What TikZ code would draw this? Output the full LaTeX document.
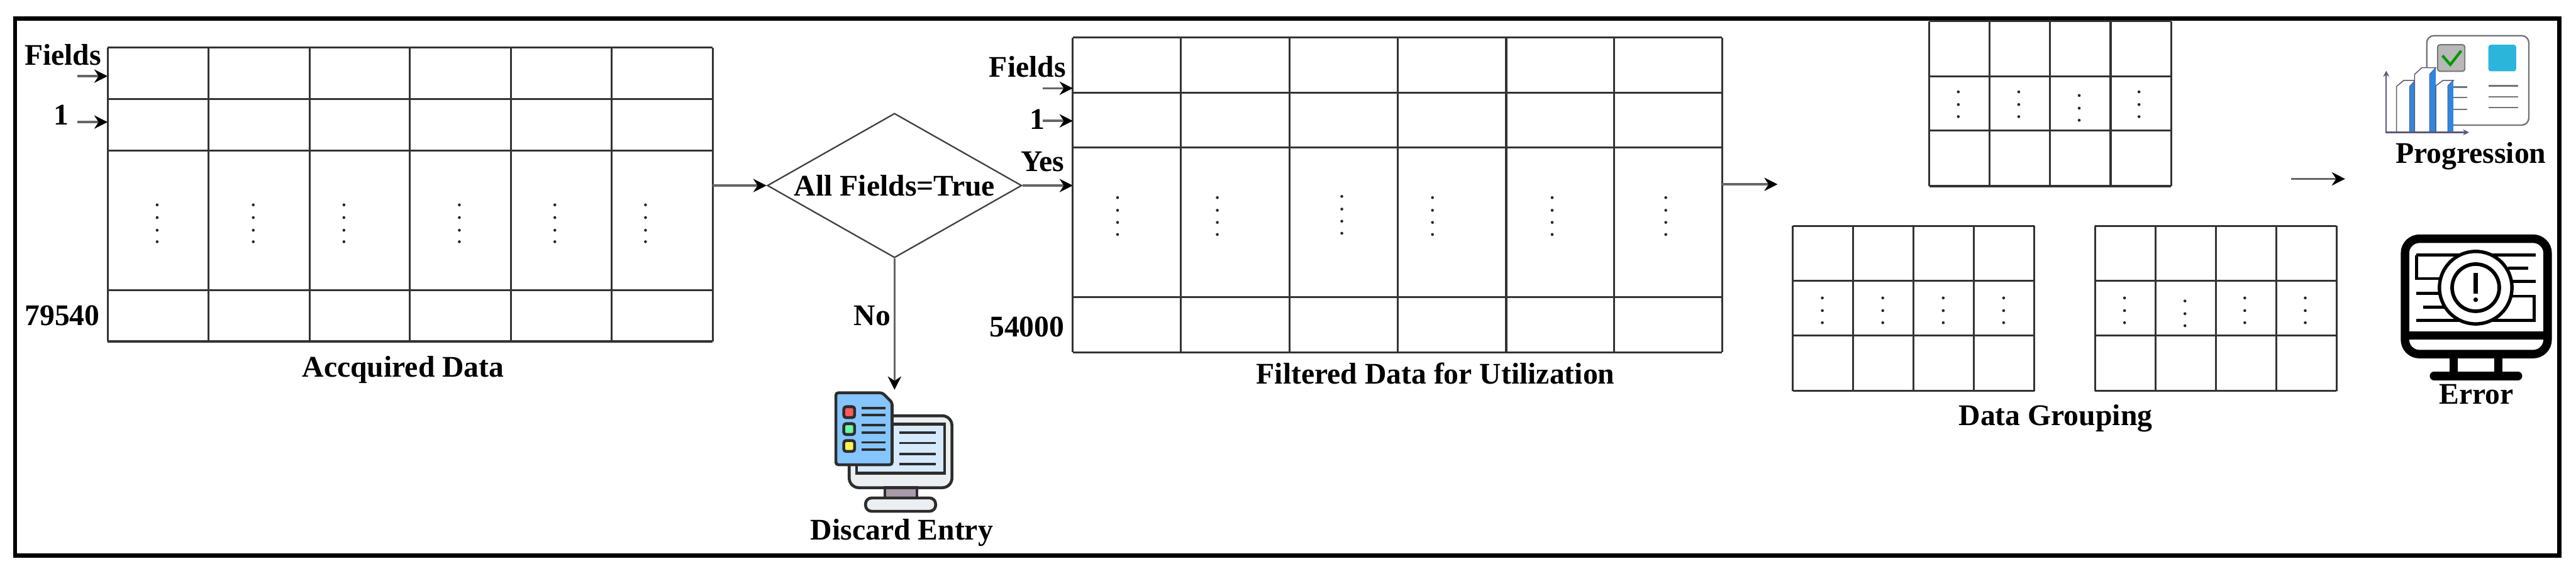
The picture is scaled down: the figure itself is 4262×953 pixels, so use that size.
\documentclass[tikz,border=0pt]{standalone}
\usepackage{fontspec}
\setmainfont{Liberation Serif}
\usetikzlibrary{arrows.meta}
\usetikzlibrary{shapes.geometric}
\definecolor{iconline}{HTML}{2D2D2D}
\definecolor{chartline}{HTML}{5C5878}
\definecolor{chartblue}{HTML}{2F86E0}
\definecolor{docblue}{HTML}{85C5FF}
\definecolor{screenblue}{HTML}{D6EAFE}
\definecolor{screengray}{HTML}{ECEFF2}
\definecolor{standgray}{HTML}{A79BA8}
\definecolor{cardblue}{HTML}{2CB5DA}
\tikzset{
 lab/.style={font=\bfseries\fontsize{12.4}{14}\selectfont, inner sep=0},
 tblline/.style={black!80, line width=.8pt},
 flow/.style={black!60, line width=.9pt, -{Stealth[length=5.5pt,width=5.5pt,black]}},
 dotmark/.style={fill=black!85},
 errline/.style={black, line width=1.25pt},
 docline/.style={iconline, line width=1pt},
 cardline/.style={black!55, line width=.6pt},
}
\begin{document}
\begin{tikzpicture}[x=.25pt,y=-.25pt]
\useasboundingbox (0,0) rectangle (4262,953);
\draw[black, line width=1.75pt] (25,31) rectangle (4234,919);
% acquired table
\foreach \x in {178,345,512,678,845,1012,1179} {
 \draw[tblline] (\x,79) -- (\x,565);
}
\foreach \y in {79,164,249,480,565} {
 \draw[tblline] (178,\y) -- (1179,\y);
}
\foreach \x in {260,419,569,760,918,1068} {
 \foreach \d in {0,21,42,61} {
  \fill[dotmark] (\x,339+\d) circle (2.4);
 }
}
\node[lab] (fieldsA) at (104,91) {Fields};
\node[lab] (oneA) at (101,190) {1};
\node[lab] (countA) at (103,522) {79540};
\node[lab] (titleA) at (667,612) {Accquired Data};
\coordinate (fieldsAin) at (178,126);
\coordinate (oneAin) at (178,202);
\coordinate (fieldsAtail) at (128,126);
\coordinate (oneAtail) at (128,202);
\draw[flow] (fieldsAtail) -- (fieldsAin);
\draw[flow] (oneAtail) -- (oneAin);
% decision
\node[draw=black!75, line width=.6pt, diamond, shape aspect=1.76, minimum width=105.25pt, minimum height=59.75pt, inner sep=0, lab] (check) at (1480,307) {All Fields=True};
\coordinate (tableAout) at (1179,307);
\draw[flow] (tableAout) -- (check.west);
\coordinate (tableBin) at (1775,307);
\draw[flow] (check.east) -- (tableBin);
\node[lab] (yes) at (1725,268) {Yes};
\node[lab] (no) at (1443,522) {No};
\coordinate (discardtop) at (1480,645);
\draw[flow] (check.south) -- (discardtop);
% discard icon
\draw[iconline, fill=screengray, line width=1.2pt, rounded corners=4pt] (1405,688) rectangle (1575,807);
\draw[iconline, fill=screenblue, line width=1.2pt] (1417,702) rectangle (1563,783);
\foreach \y in {716,733,751,768} {
 \draw[docline] (1488,\y) -- (1548,\y);
}
\draw[iconline, fill=standgray, line width=1.2pt] (1464,807) rectangle (1517,824);
\draw[iconline, fill=screengray, line width=1.2pt, rounded corners=2.5pt] (1432,824) rectangle (1548,846);
\draw[iconline, fill=docblue, line width=1.2pt, rounded corners=1pt] (1383,650) -- (1460,650) -- (1476,666) -- (1476,769) -- (1383,769) -- cycle;
\foreach \y/\c in {682/red!65, 710/green!60!cyan!60, 738/yellow!70} {
 \draw[iconline, fill=\c, line width=1.2pt, rounded corners=1pt] (1396,\y-9) rectangle (1414,\y+9);
}
\foreach \y in {675,687,703,716,732,744} {
 \draw[docline] (1425,\y) -- (1465,\y);
}
\node[lab] (discard) at (1492,881) {Discard Entry};
% filtered table
\foreach \x in {1775,1954,2134,2313,2492,2670,2849} {
 \draw[tblline] (\x,62) -- (\x,583);
}
\foreach \y in {62,153,244,492,583} {
 \draw[tblline] (1775,\y) -- (2849,\y);
}
\foreach \x/\y in {1849/327,2014/327,2220/325,2370/327,2568/327,2756/327} {
 \foreach \d in {0,21,41,61} {
  \fill[dotmark] (\x,\y+\d) circle (2.4);
 }
}
\node[lab] (fieldsB) at (1700,110) {Fields};
\node[lab] (oneB) at (1716,197) {1};
\node[lab] (countB) at (1699,541) {54000};
\node[lab] (titleB) at (2375,618) {Filtered Data for Utilization};
\coordinate (fieldsBin) at (1775,146);
\coordinate (oneBin) at (1775,200);
\coordinate (fieldsBtail) at (1725,146);
\coordinate (oneBtail) at (1725,200);
\draw[flow] (fieldsBtail) -- (fieldsBin);
\draw[flow] (oneBtail) -- (oneBin);
\coordinate (tableBout) at (2849,305);
\coordinate (groupin) at (2941,305);
\draw[flow] (tableBout) -- (groupin);
% data grouping tables
\foreach \ox/\oy in {3192/35,2966/374,3466/374} {
 \foreach \x in {0,100,200,300,400} {
  \draw[tblline] (\ox+\x,\oy) -- (\ox+\x,\oy+273);
 }
 \foreach \y in {0,91,181,273} {
  \draw[tblline] (\ox,\oy+\y) -- (\ox+400,\oy+\y);
 }
}
\foreach \x/\y in {3240/152,3340/152,3440/158,3539/152,3015/493,3115/493,3215/493,3315/493,3515/493,3615/498,3714/493,3814/493} {
 \foreach \d in {0,21,41} {
  \fill[dotmark] (\x,\y+\d) circle (2.4);
 }
}
\node[lab] (titleC) at (3401,692) {Data Grouping};
\coordinate (groupout) at (3791,296);
\coordinate (resultin) at (3880,296);
\draw[flow] (groupout) -- (resultin);
% progression icon
\draw[cardline, fill=white, rounded corners=3pt] (4015,59) rectangle (4184,207);
\draw[black!55, fill=black!28, line width=.5pt, rounded corners=1pt] (4033,74) rectangle (4078,118);
\fill[cardblue, rounded corners=1pt] (4117,74) rectangle (4163,118);
\draw[green!60!black, line width=1.1pt] (4041,92) -- (4054,107) -- (4072,84);
\foreach \y in {142,160,178} {
 \draw[cardline] (4117,\y) -- (4166,\y);
}
\foreach \y in {144,161,181} {
 \draw[cardline] (4058,\y) -- (4082,\y);
}
\foreach \xa/\xb/\xc/\ya/\yb in {3965/3987/3996/143/133,3995/4020/4030/123/112,4030/4050/4059/142/133} {
 \draw[chartline, fill=white, line width=.4pt] (\xa,219) -- (\xa,\ya) -- (\xa+12,\yb) -- (\xc,\yb) -- (\xb,\ya) -- (\xb,219);
 \fill[chartblue] (\xb,219) -- (\xb,\ya) -- (\xc,\yb) -- (\xc,219) -- cycle;
}
\draw[chartline, line width=.6pt, {Stealth[length=2.5pt,width=2.5pt]}-{Stealth[length=2.5pt,width=2.5pt]}] (3948,117) -- (3948,219) -- (4085,219);
\node[lab] (progress) at (4088,258) {Progression};
% error icon
\draw[black, line width=3.5pt, rounded corners=6pt] (3979,395) rectangle (4215,586);
\draw[black, line width=3.4pt] (3979,555) -- (4215,555);
\draw[black, line width=3.4pt] (4060,590) -- (4060,618);
\draw[black, line width=3.4pt] (4133,590) -- (4133,618);
\draw[black, line width=3.5pt, line cap=round] (4027,622) -- (4166,622);
\draw[errline] (3998,422) -- (4195,422);
\draw[errline] (3998,422) -- (3998,461) -- (4037,461);
\draw[errline] (4150,444) -- (4183,444);
\draw[errline] (4157,466) -- (4195,466);
\draw[errline] (4150,490) -- (4193,490) -- (4193,530) -- (3998,530);
\draw[errline] (3998,485) -- (4037,485);
\draw[errline] (4009,508) -- (4043,508);
\draw[black, fill=white, line width=1.4pt] (4096,476) circle (60);
\draw[black, line width=1.5pt] (4096,476) circle (39);
\draw[black, line width=1.7pt] (4096,452) -- (4096,486);
\fill[black] (4096,496) circle (3.8);
\node[lab] (error) at (4097,653) {Error};
\end{tikzpicture}
\end{document}
